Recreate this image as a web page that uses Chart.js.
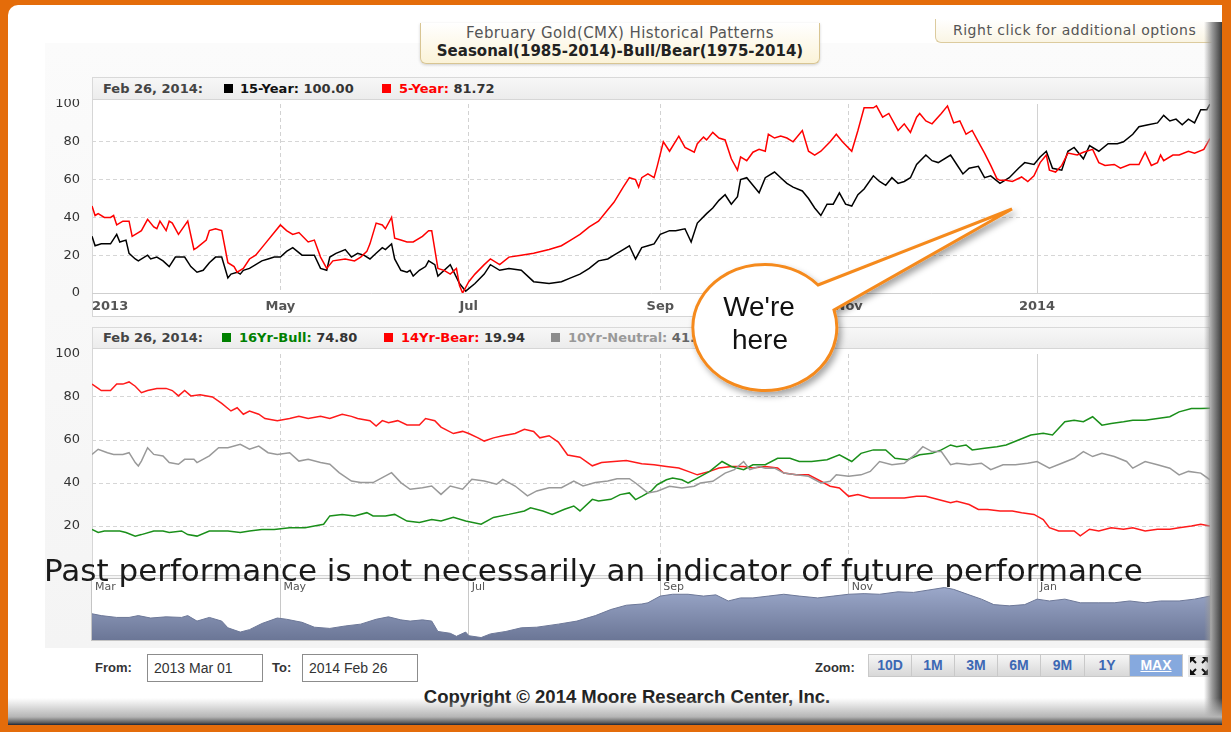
<!DOCTYPE html>
<html lang="en">
<head>
<meta charset="UTF-8">
<title>February Gold(CMX) Historical Patterns</title>
<script src="https://cdn.jsdelivr.net/npm/chart.js"></script>
<style>
  html, body { margin: 0; padding: 0; }
  body { width: 1231px; height: 732px; background: #e46c0a; position: relative; overflow: hidden;
         font-family: 'DejaVu Sans', Verdana, sans-serif; }
  .abs { position: absolute; }
  #panel { left: 8px; top: 5px; width: 1214px; height: 720px; background: #fff; border-radius: 10px 0 0 0; }
  #chartBg { left: 45px; top: 43px; width: 1168px; height: 605px; background: linear-gradient(#fbfbfb, #f4f4f4); }
  #shadeRight { left: 1204px; top: 22px; width: 18px; height: 703px;
                background: linear-gradient(to right, rgba(255,255,255,0), #9a9a9a 45%, #3a3a3a 100%); }
  #shadeBottom { left: 8px; top: 698px; width: 1214px; height: 27px;
                 background: linear-gradient(to bottom, rgba(255,255,255,0), #b5b5b5 70%, #5a5a5a 92%, #1c2536 100%); }
  #titleBox { left: 420px; top: 23px; width: 400px; height: 41px; box-sizing: border-box;
              border: 1px solid #d8c593; border-top: none; border-radius: 0 0 6px 6px;
              background: linear-gradient(#ffffff, #fbf3d8); box-shadow: 0 1px 3px rgba(0,0,0,0.18); text-align: center; }
  #titleBox .t1 { font-size: 15px; letter-spacing: 0.4px; color: #555; line-height: 18px; margin-top: 1px; }
  #titleBox .t2 { font-size: 15px; color: #222; font-weight: bold; line-height: 18px; }
  #rightClick { left: 935px; top: 19px; width: 282px; height: 24px; box-sizing: border-box;
                border: 1px solid #dccb9e; border-top: none; border-right: none; border-radius: 0 0 0 6px;
                background: linear-gradient(#ffffff, #faf5e4); font-size: 14px; letter-spacing: 0.5px; color: #555; line-height: 23px; padding-left: 17px; white-space: nowrap; }
  .legend { box-sizing: border-box; border: 1px solid #d9d9d9; background: linear-gradient(#f7f7f7, #ececec);
            font-size: 13px; font-weight: bold; color: #444; }
  .legend span { position: absolute; top: 0; white-space: nowrap; }
  .legend i { position: absolute; width: 9px; height: 9px; }
  .frame { box-sizing: border-box; border: 1px solid #d6d6d6; background: #fff; }
  canvas { position: absolute; }
  #disclaimer { left: 44px; top: 552px; font-size: 31px; color: #1a1a1a; white-space: nowrap; z-index: 5; }
  .ctl { font-family: 'Liberation Sans Narrow', 'Liberation Sans', Arial, sans-serif; color: #333; }
  .lbl { font-weight: bold; font-size: 13px; top: 660px; }
  .inp { top: 654px; width: 116px; height: 28px; box-sizing: border-box; border: 1px solid #8c8c8c; background: #fff;
         font-size: 14px; line-height: 26px; padding-left: 6px; }
  #zoomBtns { left: 868px; top: 654px; height: 23px; display: flex; }
  #zoomBtns span { height: 23px; box-sizing: border-box; border: 1px solid #c9c9c9; border-left: none;
                   background: linear-gradient(#f6f6f6, #d8d8d8); color: #3c68b4; font-weight: bold; font-size: 14px;
                   line-height: 21px; text-align: center; }
  #zoomBtns span:first-child { border-left: 1px solid #c9c9c9; }
  #zoomBtns span.on { background: #86a9de; color: #fff; text-decoration: underline; }
  #copyright { left: 0; width: 1254px; top: 686px; text-align: center; font-weight: bold; font-size: 18.5px; color: #222; }
  #bubble { left: 0; top: 0; z-index: 10; pointer-events: none; }
</style>
</head>
<body>

<div class="abs" id="panel"></div>
<div class="abs" id="chartBg"></div>

<div class="abs" id="titleBox">
  <div class="t1">February Gold(CMX) Historical Patterns</div>
  <div class="t2">Seasonal(1985-2014)-Bull/Bear(1975-2014)</div>
</div>
<div class="abs" id="rightClick">Right click for additional options</div>

<!-- top chart -->
<div class="abs legend" style="left:92px; top:77px; width:1118px; height:23px; line-height:21px;">
  <span style="left:10px;">Feb 26, 2014:</span>
  <i style="left:131px; top:6px; background:#000;"></i>
  <span style="left:147px; color:#111;">15-Year: <b style="color:#333">100.00</b></span>
  <i style="left:289px; top:6px; background:#ff0000;"></i>
  <span style="left:306px; color:#ff0000;">5-Year: <b style="color:#333">81.72</b></span>
</div>
<div class="abs frame" style="left:92px; top:99px; width:1118px; height:218px;"></div>
<canvas id="topChart" width="1170" height="218" style="left:40px; top:99px;"></canvas>

<!-- bottom chart -->
<div class="abs legend" style="left:92px; top:327px; width:1118px; height:22px; line-height:20px;">
  <span style="left:10px;">Feb 26, 2014:</span>
  <i style="left:129px; top:5px; background:#008000;"></i>
  <span style="left:146px; color:#008000;">16Yr-Bull: <b style="color:#333">74.80</b></span>
  <i style="left:291px; top:5px; background:#ff0000;"></i>
  <span style="left:308px; color:#ff0000;">14Yr-Bear: <b style="color:#333">19.94</b></span>
  <i style="left:458px; top:5px; background:#8c8c8c;"></i>
  <span style="left:475px; color:#999;">10Yr-Neutral: <b style="color:#666">41.52</b></span>
</div>
<div class="abs frame" style="left:92px; top:348px; width:1118px; height:228px;"></div>
<canvas id="bottomChart" width="1170" height="227" style="left:40px; top:348px;"></canvas>

<!-- navigator -->
<div class="abs frame" style="left:91px; top:578px; width:1120px; height:63px; border-color:#c4c4c4;"></div>
<canvas id="navChart" width="1118" height="61" style="left:92px; top:579px;"></canvas>

<div class="abs" id="disclaimer">Past performance is not necessarily an indicator of future performance</div>

<!-- controls -->
<div class="abs ctl lbl" style="left:95px;">From:</div>
<div class="abs ctl inp" style="left:147px;">2013 Mar 01</div>
<div class="abs ctl lbl" style="left:272px;">To:</div>
<div class="abs ctl inp" style="left:302px;">2014 Feb 26</div>
<div class="abs ctl lbl" style="left:815px;">Zoom:</div>
<div class="abs ctl" id="zoomBtns">
  <span style="width:44px">10D</span><span style="width:43px">1M</span><span style="width:43px">3M</span><span style="width:43px">6M</span><span style="width:44px">9M</span><span style="width:45px">1Y</span><span class="on" style="width:53px">MAX</span>
</div>
<svg class="abs" style="left:1188px; top:655px;" width="22" height="22" viewBox="0 0 22 22">
  <rect x="0" y="0" width="22" height="22" fill="#e6e6e6"/>
  <g stroke="#111" stroke-width="2" fill="#111">
    <line x1="3" y1="3" x2="8" y2="8"/><polygon points="2,2 8,2 2,8" stroke="none"/>
    <line x1="19" y1="3" x2="14" y2="8"/><polygon points="20,2 14,2 20,8" stroke="none"/>
    <line x1="3" y1="19" x2="8" y2="14"/><polygon points="2,20 8,20 2,14" stroke="none"/>
    <line x1="19" y1="19" x2="14" y2="14"/><polygon points="20,20 14,20 20,14" stroke="none"/>
  </g>
</svg>
<div class="abs ctl" id="copyright">Copyright © 2014 Moore Research Center, Inc.</div>

<div class="abs" id="shadeRight"></div>
<div class="abs" id="shadeBottom"></div>

<!-- call-out -->
<svg class="abs" id="bubble" width="1231" height="732">
  <defs>
    <filter id="sh" x="-20%" y="-20%" width="140%" height="140%">
      <feDropShadow dx="3" dy="4" stdDeviation="3" flood-color="#000" flood-opacity="0.35"/>
    </filter>
  </defs>
  <path d="M 818 285 L 1012 209 L 834 310 A 72 63 0 1 1 818 285 Z" fill="#fff" stroke="#f58a1f" stroke-width="3" stroke-linejoin="miter" filter="url(#sh)"/>
  <text x="759" y="316" text-anchor="middle" font-family="Liberation Sans, Arial, sans-serif" font-size="28" fill="#111">We're</text>
  <text x="760" y="349" text-anchor="middle" font-family="Liberation Sans, Arial, sans-serif" font-size="28" fill="#111">here</text>
</svg>

<script>
// x values are days counted from 2013 Mar 01
const monthTickDays = [0, 61, 122, 184, 245, 306, 362];
const topTickLabels = ['2013', 'May', 'Jul', 'Sep', 'Nov', '2014', ''];
const navTickDays = [0, 61, 122, 184, 245, 306];
const navTickLabels = ['Mar', 'May', 'Jul', 'Sep', 'Nov', 'Jan'];
const yTickValues = [0, 20, 40, 60, 80, 100];
const yearStartDay = 306;

// seasonal panel
const fifteenYearDays = [0,1,3,5,6,8,9,11,12,14,15,18,19,21,23,25,27,30,32,34,36,38,40,42,44,45,47,48,49,51,55,57,59,61,63,65,68,70,72,74,76,77,79,82,84,86,88,90,92,94,95,97,98,100,102,103,104,106,108,109,111,112,
  116,119,121,124,127,129,132,135,139,143,148,152,155,158,161,
  164,167,169,172,174,176,178,180,182,184,187,189,192,194,196,199,201,203,205,207,209,210,212,214,216,218,221,223,225,227,230,232,234,236,238,240,242,244,246,248,250,253,255,257,259,261,263,265,267,270,272,274,278,280,282,284,287,289,291,294,297,300,302,305,307,309,311,314,316,318,321,323,326,329,332,334,337,339,342,345,347,349,351,353,355,357,359,361,362];
const fifteenYearValues = [30,25,26,26,26,31,27,28,21,18,17,20,18,19,17,14,19,19,14,11,12,16,19,19,8,10,11,10,12,13,17,18,19,19,22,24,20,20,20,13,12,19,21,23,19,21,20,18,21,24,23,26,18,12,11,12,9,12,14,17,15,9,
  15,5,1,5,10,15,12,13,12,6,5,6,8,10,13,
  17,18,20,23,25,18,24,25,26,31,33,33,34,27,37,42,45,49,52,47,51,60,61,57,53,61,64,61,58,56,54,50,45,41,47,47,53,47,46,52,55,62,59,57,61,58,59,61,68,73,70,69,73,68,63,66,67,61,62,58,61,66,69,68,72,75,66,65,75,77,71,78,75,79,79,80,84,88,89,90,94,91,92,89,92,90,97,97,100];

const fiveYearDays = [0,1,2,4,6,7,8,10,12,13,15,16,18,20,21,22,24,25,26,28,31,33,34,37,38,40,42,44,46,47,49,51,53,56,59,61,63,65,67,70,72,74,76,78,82,85,87,89,90,92,94,95,97,98,100,102,104,107,109,110,112,
  114,116,118,119,120,122,124,127,129,132,135,139,143,148,152,155,158,161,
  164,167,169,172,174,176,177,178,180,182,183,185,187,190,192,195,196,198,199,201,203,205,207,209,210,212,214,216,218,219,221,223,225,227,230,232,234,236,239,241,243,246,248,250,253,254,256,258,261,263,265,267,268,270,272,275,277,279,281,283,285,287,289,291,293,294,296,298,301,303,305,307,309,310,312,314,316,319,321,324,326,328,331,333,336,339,341,343,345,346,347,350,352,355,357,360,362];
const fiveYearValues = [46,41,42,40,40,41,36,38,38,30,32,33,39,35,34,38,33,38,37,31,38,23,24,28,33,34,33,16,14,11,13,18,20,26,32,36,33,31,32,27,28,19,13,17,18,17,19,22,26,37,36,34,40,29,28,27,27,30,33,33,13,
  12,10,13,4,0,6,10,15,18,15,19,20,21,23,25,28,31,35,
  38,44,48,56,61,60,56,61,63,61,67,80,75,83,77,74.5,79,82.5,81,85,82,81,71,65,72,70,74.5,76,75,84,82,83,82,80,86,75,73,75,80,84,80,75,86,98,98,99,93,95,86,89.5,85,93,95,91,89.5,95,99,90,91,84,86,80,74,67.5,60.5,59.6,59.6,59,61.4,59,62,69,73,65,64,67.5,74,73,74.5,76,69,67.5,68,66,68,68,74.5,67.5,69,73,70,73,73,75,74,76,81.72];

// bull / bear panel
const bullDays = [0,2,4,7,9,11,14,16,20,23,25,29,31,34,38,41,44,48,51,55,59,64,69,72,75,77,81,85,89,91,95,98,102,106,110,113,117,121,126,130,135,140,142,146,149,153,156,158,162,164,168,171,174,176,178,181,183,186,188,191,193,196,200,204,207,211,214,218,222,226,229,233,238,242,246,249,253,257,260,264,268,272,275,278,280,283,285,289,293,296,300,304,308,311,315,318,321,324,327,330,334,337,341,345,349,352,356,359,362];
const bullValues = [18.4,17,17.7,17.7,17.7,17,15.3,16,17.7,17.7,17,17.7,16,15.3,17.7,17.7,17.7,17,17.7,18.4,18.4,19.2,19.2,20,20.8,24.7,25.4,24.7,26.2,24.7,24.7,25.4,22.3,21.6,23,22.3,24,22.3,20.8,24,25.4,27,28.5,27,25.4,27.8,29.3,27,32.4,31.6,32.4,34.6,35.4,32.3,33.8,36.2,39.2,41.5,42.3,41.5,40,42.3,45.4,50,47.7,46.2,48.5,48.5,51.5,51.5,50,50,50.8,53.1,50,53.8,55.4,55.4,51.5,50.8,53.1,53.8,55.4,57.7,56.9,57.7,55.4,56.2,56.9,57.7,60,62.3,63.1,62.3,68.5,69.2,68.5,70.8,66.9,67.7,68.5,69.2,69.2,70,70.8,73.1,74.6,74.6,74.8];

const bearDays = [0,2,3,6,8,10,12,14,16,18,21,24,26,28,30,32,35,39,42,45,47,49,51,54,56,60,64,67,70,74,77,81,84,86,90,92,94,96,99,102,106,108,111,113,117,120,122,125,127,130,133,137,140,143,145,148,151,154,158,162,165,169,173,178,182,186,190,193,196,200,203,207,211,214,218,222,224,228,232,236,239,242,245,248,252,255,259,263,267,270,274,278,280,284,287,290,294,298,301,305,308,310,313,315,318,320,323,326,330,334,337,341,345,349,352,356,359,362];
const bearValues = [86,84,83,83,86,86,87,85,82,83,84,84,83,80.5,83,80.5,81,80,77,73.5,75,72,73.5,72,70,69,70,71,70,71,70,72,71,70,69,66.5,69,68,69,67,67,70,69,66,63,64,63,61,59.5,61,62,63,65,64,61,62,59,53,52,48,49.5,50,50.5,49,48.5,47.7,47,45.4,43.8,45.4,47,47.7,47.7,47,47.7,47,44.6,43.8,43.8,40.8,38.5,37.7,33.8,34.6,33,33,33,33,33.8,33.8,32.3,30.8,31.5,30,27.7,27.7,27,27,26.2,25.4,23,19.2,17.7,17.7,17.7,15.4,18.5,17.7,19.2,18.5,19.2,17.7,18.5,18.5,19.2,20,20.8,19.94];

const neutralDays = [0,2,5,7,10,12,14,15,16,18,20,23,25,28,30,33,34,38,41,44,48,51,54,57,60,64,67,70,74,77,80,84,87,91,94,97,100,103,107,110,113,116,120,123,127,131,133,137,141,144,148,152,156,159,163,167,170,174,176,180,183,187,191,195,197,201,205,208,211,213,216,218,221,224,228,232,236,239,241,245,249,252,255,259,263,267,269,272,275,278,280,284,288,291,295,299,303,306,310,314,318,321,324,327,331,335,337,341,345,349,352,355,359,362];
const neutralValues = [53.3,55.7,54.1,53.3,53.3,54.1,49.5,47.9,50.2,56.4,53.3,52.6,49.5,48.7,51,51,49.5,52.6,56.4,56.4,58,55.7,57.2,54.1,53.3,54.1,50.2,51,49.5,48.7,44.8,40.9,40.2,40.2,42.5,44.8,40.2,37.1,37.8,38.6,34.7,38.6,37.1,41.7,40.9,39.4,41.7,38.6,34,36.3,37.8,37.8,40.9,38.6,40.2,40.9,42,42,40,35.4,36.2,38.5,37.7,38.5,40,40.8,44.6,46.2,50,46.2,47.7,46.9,46.9,44.6,43.8,43.1,40,40.8,43.8,43.1,43.8,45.4,50,48.5,49.2,53.8,56.9,54.6,54.6,48.5,49.2,48.5,49.2,46.2,48.5,48.5,49.2,50,46.9,49.2,51.5,54.6,52.3,53.8,52.3,50,46.9,50,48.5,46.9,43.8,45.4,44.6,41.5];

// navigator strip (percent of strip height)
const navDays = [0,3,8,12,15,19,24,29,31,34,38,42,44,48,51,55,60,63,68,72,77,82,87,92,96,100,103,107,110,112,116,118,121,122,126,129,134,139,144,151,157,163,168,173,178,180,184,188,193,198,202,206,210,214,219,224,229,235,240,245,250,255,261,266,271,276,279,284,288,292,297,302,306,310,315,320,326,331,336,341,346,352,357,362];
const navValues = [43,40,37,37,40,36,38,37,40,31,37,31,20,13,17,27,36,34,29,21,19,23,26,34,38,33,31,33,31,14,11,6,13,7,4,10,14,20,21,26,31,40,50,57,59,61,72,75,75,72,74,64,69,69,72,75,72,69,72,75,76,75,79,78,82,86,83,74,67,58,56,58,67,64,67,61,61,61,64,61,64,64,67,72];

Chart.defaults.font.family = "'DejaVu Sans', Verdana, sans-serif";
Chart.defaults.animation = false;

function pts(days, values) {
  return days.map((d, i) => ({ x: d, y: values[i] }));
}

function line(days, values, color) {
  return { data: pts(days, values), borderColor: color, borderWidth: 1.5, pointRadius: 0, tension: 0, fill: false };
}

function xScale(labels, showLabels) {
  return {
    type: 'linear', min: 0, max: 362,
    afterBuildTicks: s => { s.ticks = monthTickDays.map(v => ({ value: v })); },
    afterFit: s => { s.height = showLabels ? 24 : 0; s.paddingLeft = 0; s.paddingRight = 0; },
    grid: {
      drawTicks: false, lineWidth: 1,
      color: c => (c.tick && (c.tick.value === 0 || c.tick.value === 362)) ? 'rgba(0,0,0,0)' : '#d2d2d2'
    },
    border: {
      display: showLabels, color: '#cfcfcf',
      dash: c => (!c.tick || c.tick.value === yearStartDay) ? [] : [4, 3]
    },
    ticks: {
      display: showLabels, autoSkip: false, maxRotation: 0, align: 'inner', padding: 6,
      color: '#555', font: { size: 13, weight: 'bold' },
      callback: (v, i) => labels[i]
    }
  };
}

function yScale(hideZero) {
  return {
    min: 0, max: 100,
    afterBuildTicks: s => { s.ticks = yTickValues.map(v => ({ value: v })); },
    // keep the plot edges where the frame is: no extra room for half label heights
    afterFit: s => { s.width = 52; s.paddingTop = 0; s.paddingBottom = 0; },
    grid: {
      drawTicks: false,
      color: c => (c.tick && (c.tick.value === 0 || c.tick.value === 100)) ? 'rgba(0,0,0,0)' : '#d6d6d6'
    },
    border: { display: false, dash: [4, 3] },
    ticks: { padding: 12, color: '#333', font: { size: 13 }, callback: v => (hideZero && v === 0) ? '' : String(v) }
  };
}

const noLegend = { legend: { display: false }, tooltip: { enabled: false } };

new Chart(document.getElementById('topChart'), {
  type: 'line',
  data: { datasets: [
    line(fiveYearDays, fiveYearValues, '#ff0000'),
    line(fifteenYearDays, fifteenYearValues, '#000000')
  ] },
  options: {
    responsive: false,
    layout: { padding: { top: 5, right: 0, bottom: 0, left: 0 } },
    plugins: noLegend,
    scales: { x: xScale(topTickLabels, true), y: yScale(false) }
  }
});

new Chart(document.getElementById('bottomChart'), {
  type: 'line',
  data: { datasets: [
    line(neutralDays, neutralValues, '#999999'),
    line(bullDays, bullValues, '#1a8f1a'),
    line(bearDays, bearValues, '#ff1a1a')
  ] },
  options: {
    responsive: false,
    layout: { padding: { top: 6, right: 0, bottom: 6, left: 0 } },
    plugins: noLegend,
    scales: { x: xScale(topTickLabels, false), y: yScale(true) }
  }
});

// month names written inside the navigator strip
const navLabels = {
  id: 'navLabels',
  afterDraw(chart) {
    const { ctx, chartArea, scales: { x } } = chart;
    ctx.save();
    ctx.font = "11px 'DejaVu Sans', Tahoma, sans-serif";
    ctx.fillStyle = '#555';
    ctx.textBaseline = 'top';
    navTickDays.forEach((d, i) => ctx.fillText(navTickLabels[i], x.getPixelForValue(d) + 3, chartArea.top + 3));
    ctx.restore();
  }
};

new Chart(document.getElementById('navChart'), {
  type: 'line',
  data: { datasets: [{
    data: pts(navDays, navValues),
    borderColor: '#6d7898', borderWidth: 1, pointRadius: 0, tension: 0, fill: 'origin',
    backgroundColor: c => {
      const { ctx, chartArea } = c.chart;
      if (!chartArea) return '#8592b4';
      const g = ctx.createLinearGradient(0, chartArea.top, 0, chartArea.bottom);
      g.addColorStop(0, '#a3b0d2');
      g.addColorStop(1, '#6b7696');
      return g;
    }
  }] },
  options: {
    responsive: false,
    layout: { padding: 0 },
    plugins: noLegend,
    scales: {
      x: {
        type: 'linear', min: 0, max: 362,
        afterBuildTicks: s => { s.ticks = navTickDays.map(v => ({ value: v })); },
        afterFit: s => { s.height = 0; },
        grid: { drawTicks: false, color: c => (c.tick && c.tick.value === 0) ? 'rgba(0,0,0,0)' : '#c8c8c8' },
        border: { display: false },
        ticks: { display: false }
      },
      y: { display: false, min: 0, max: 100 }
    }
  },
  plugins: [navLabels]
});
</script>
</body>
</html>
